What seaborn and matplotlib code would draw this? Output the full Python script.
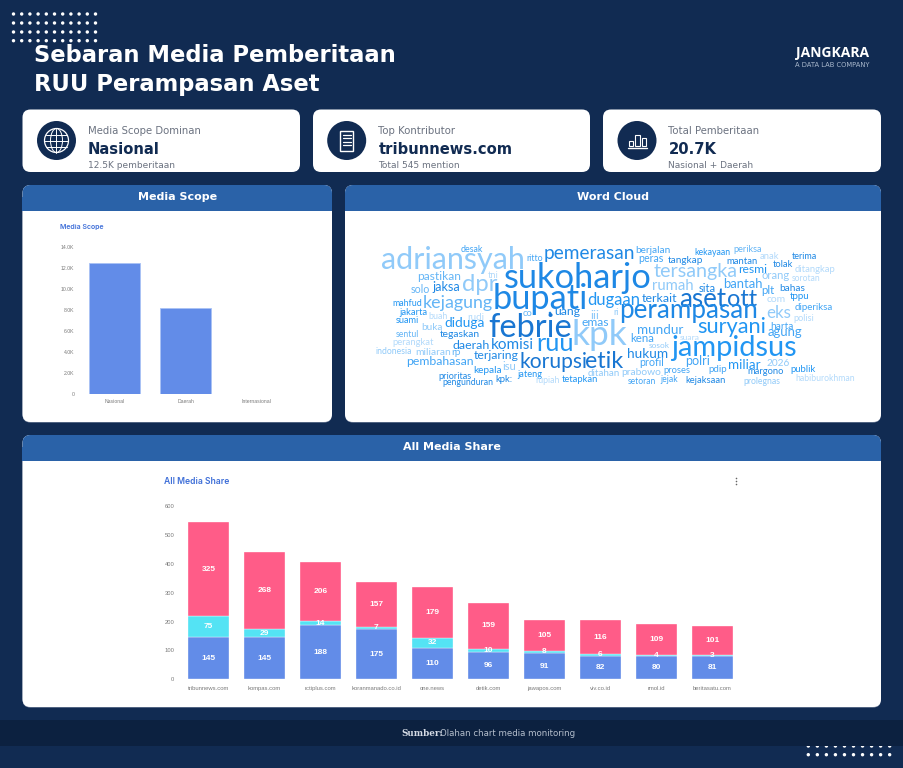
# plot.py
# Media monitoring dashboard: scope bars, word cloud and stacked media share

import matplotlib
matplotlib.use('Agg')
import matplotlib.pyplot as plt
import pandas as pd
import seaborn as sns
from matplotlib.font_manager import FontProperties
from matplotlib.patches import Circle, Ellipse, FancyBboxPatch, Rectangle
from matplotlib.textpath import TextPath

# data
SCOPE_LABELS = ['Nasional', 'Daerah', 'Internasional']
SCOPE_VALUES = [12500, 8200, 60]
SCOPE_TICKS = [0, 2000, 4000, 6000, 8000, 10000, 12000, 14000]
SCOPE_TICK_LABELS = ['0', '2.0K', '4.0K', '6.0K', '8.0K', '10.0K', '12.0K', '14.0K']

MEDIA_LABELS = ['tribunnews.com', 'kompas.com', 'rctiplus.com', 'koranmanado.co.id',
                'one.news', 'detik.com', 'jawapos.com', 'viv.co.id', 'rmol.id',
                'beritasatu.com']
MEDIA_BLUE = [145, 145, 188, 175, 110, 96, 91, 82, 80, 81]
MEDIA_CYAN = [75, 29, 14, 7, 32, 10, 8, 6, 4, 3]
MEDIA_PINK = [325, 268, 206, 157, 179, 159, 105, 116, 109, 101]
MEDIA_TICKS = [0, 100, 200, 300, 400, 500, 600]

KPI_TITLES = ['Media Scope Dominan', 'Top Kontributor', 'Total Pemberitaan']
KPI_VALUES = ['Nasional', 'tribunnews.com', '20.7K']
KPI_NOTES = ['12.5K pemberitaan', 'Total 545 mention', 'Nasional + Daerah']

WORDS = ['adriansyah', 'desak', 'ritto', 'pemerasan', 'sukoharjo', 'tni', 'pastikan',
         'dpr', 'solo', 'jaksa', 'bupati', 'kejagung', 'dugaan', 'mahfud', 'jakarta',
         'buah', 'rudi', 'co', 'uang', 'iii', 'febrie', 'suami', 'buka', 'diduga',
         'emas', 'kpk', 'sentul', 'tegaskan', 'perangkat', 'daerah', 'komisi', 'ruu',
         'indonesia', 'miliaran', 'rp', 'terjaring', 'korupsi', 'etik', 'pembahasan',
         'isu', 'kepala', 'ditahan', 'prioritas', 'jateng', 'pengunduran', 'kpk:',
         'rupiah', 'tetapkan', 'berjalan', 'kekayaan', 'periksa', 'peras', 'tangkap',
         'mantan', 'anak', 'terima', 'tersangka', 'resmi', 'tolak', 'ditangkap',
         'orang', 'sorotan', 'rumah', 'sita', 'bantah', 'plt', 'bahas', 'terkait',
         'aset', 'ott', 'com', 'tppu', 'eks', 'diperiksa', 'perampasan', 'ri',
         'polisi', 'mundur', 'suryani', 'harta', 'agung', 'kena', 'suara', 'sosok',
         'jampidsus', 'hukum', 'profil', 'polri', 'miliar', '2026', 'prabowo',
         'proses', 'pdip', 'margono', 'publik', 'setoran', 'jejak', 'kejaksaan',
         'prolegnas', 'habiburokhman']

# word cloud placement: left px, right px, centre y px, shade index
WORD_BOXES = {
    'adriansyah': (381.7, 523, 260, 1), 'desak': (460.7, 482.7, 249, 3),
    'ritto': (526.7, 542.3, 258, 3), 'pemerasan': (545, 634, 256, 5),
    'sukoharjo': (505, 650, 278, 5), 'tni': (488, 498, 275, 0),
    'pastikan': (418, 460, 277, 2), 'dpr': (462.7, 497, 284, 1),
    'solo': (410.7, 429, 289, 2), 'jaksa': (432.3, 459.3, 288, 5),
    'bupati': (495, 586, 299, 5), 'kejagung': (424, 492.7, 303, 2),
    'dugaan': (587.7, 639, 300, 4), 'mahfud': (393.3, 421.7, 303, 4),
    'jakarta': (399.3, 426.7, 312, 4), 'buah': (429, 447, 316, 0),
    'rudi': (468.3, 484, 316, 0), 'co': (523, 532, 314, 2),
    'uang': (555, 580, 313, 5), 'iii': (591, 598.5, 314, 1),
    'febrie': (489.3, 570.7, 325, 6), 'suami': (395.7, 418.3, 320, 4),
    'buka': (422.3, 442.3, 326, 1), 'diduga': (445, 484, 323, 4),
    'emas': (582.3, 608.7, 323, 3), 'kpk': (574, 627, 335, 1),
    'sentul': (395.7, 418.3, 334, 2), 'tegaskan': (440, 479.3, 334, 5),
    'perangkat': (393.3, 434, 342, 0), 'daerah': (453.3, 489.3, 344, 5),
    'komisi': (492.3, 533.3, 343, 5), 'ruu': (538.3, 572.3, 345, 4),
    'indonesia': (375.7, 411, 351, 1), 'miliaran': (416, 450, 351, 1),
    'rp': (451.7, 460, 353, 2), 'terjaring': (474, 518.3, 356, 5),
    'korupsi': (520.7, 586, 362, 6), 'etik': (586, 623, 360, 6),
    'pembahasan': (407.3, 473.3, 362, 3), 'isu': (502.7, 515, 366, 1),
    'kepala': (474, 501, 370, 4), 'ditahan': (587.7, 619, 372, 1),
    'prioritas': (439, 471, 376, 5), 'jateng': (516.7, 541.7, 374, 4),
    'pengunduran': (442.7, 492.7, 383, 5), 'kpk:': (495.7, 511.7, 379, 5),
    'rupiah': (536, 559.3, 381, 0), 'tetapkan': (561.7, 597.3, 379, 4),
    'berjalan': (636, 669.3, 250.7, 3), 'kekayaan': (695, 730, 253, 4),
    'periksa': (734.3, 761.7, 249, 2), 'peras': (639, 663.3, 260, 3),
    'tangkap': (668.3, 702.7, 260.7, 5), 'mantan': (726.7, 756.7, 261.3, 5),
    'anak': (760, 779, 256, 0), 'terima': (792.3, 816.7, 256, 5),
    'tersangka': (654, 736.7, 271.7, 1), 'resmi': (739.3, 766.7, 269, 4),
    'tolak': (773.3, 793.3, 264, 5), 'ditangkap': (795, 835, 269.7, 0),
    'orang': (761.7, 789.3, 277, 1), 'sorotan': (792.3, 820, 278, 0),
    'rumah': (652.7, 692.3, 285, 1), 'sita': (699, 715, 287.7, 5),
    'bantah': (724, 761.7, 283.7, 3), 'plt': (761.7, 774, 291, 3),
    'bahas': (780, 804.3, 287.7, 5), 'terkait': (641.7, 676.7, 297.7, 5),
    'aset': (680, 726, 298, 6), 'ott': (728.3, 757.3, 298, 6),
    'com': (766.7, 785, 299, 0), 'tppu': (790, 809, 297, 4),
    'eks': (767.3, 790.7, 312, 1), 'diperiksa': (795, 832.3, 307.3, 3),
    'perampasan': (621, 755.7, 314, 5), 'ri': (614, 618.3, 312, 1),
    'polisi': (794.3, 814, 318.3, 0), 'mundur': (637.7, 682.7, 329, 3),
    'suryani': (698.3, 765.3, 327.3, 4), 'harta': (770.7, 792.7, 325.7, 3),
    'agung': (768.3, 802.3, 334.3, 3), 'kena': (630.7, 653.3, 337.7, 3),
    'suara': (680, 699, 337.7, 0), 'sosok': (649, 669.3, 345.3, 1),
    'jampidsus': (670, 795.7, 348, 4), 'hukum': (627.7, 666.7, 352.7, 5),
    'profil': (640, 663.3, 362.7, 3), 'polri': (686, 709.3, 361, 3),
    'miliar': (729, 760, 364.3, 4), '2026': (766.7, 789.3, 362, 1),
    'prabowo': (621.7, 660.7, 371.7, 1), 'proses': (664, 690, 371.3, 3),
    'pdip': (709, 726.7, 369.3, 3), 'margono': (747.7, 783.3, 372.7, 5),
    'publik': (791, 815.7, 369, 4), 'setoran': (628.3, 655.7, 380.7, 3),
    'jejak': (660, 677.7, 380, 3), 'kejaksaan': (685.7, 724.3, 380.3, 5),
    'prolegnas': (744.3, 780, 381.7, 1), 'habiburokhman': (795.7, 854, 377.7, 0),
}

NAVY = '#112B52'
BAND = '#0C2140'
HEADER = '#2A62A8'
BLUE = '#628CE8'
CYAN = '#54E3F4'
PINK = '#FF5C88'
SHADES = ['#B3DAFB', '#90CAF9', '#64B5F6', '#42A5F5', '#2196F3', '#1E88E5', '#1976D2']
W, H = 904, 768
DPI = 100


def add_chart_axes(fig, left, top, right, bottom):
    """Axes placed by pixel edges of the figure."""
    ax = fig.add_axes([left / W, 1 - bottom / H, (right - left) / W, (bottom - top) / H])
    ax.set_facecolor('none')
    sns.despine(ax=ax, left=True, bottom=True)
    return ax


def style_ticks(ax, size, pad):
    ax.set_xlabel('')
    ax.set_ylabel('')
    ax.tick_params(length=0, labelsize=size, labelcolor='#7A7A7A', pad=pad)
    for label in ax.get_xticklabels() + ax.get_yticklabels():
        label.set_family('Liberation Sans')


def draw_card(bg, left, top, right, bottom, radius=8, color='white'):
    bg.add_patch(FancyBboxPatch((left + radius, top + radius),
                                right - left - 2 * radius, bottom - top - 2 * radius,
                                boxstyle=f'round,pad={radius},rounding_size={radius}',
                                fc=color, ec='none'))


def draw_panel(bg, left, top, right, bottom, title):
    """White card with a soft bottom edge and a blue rounded header strip."""
    draw_card(bg, left, top + 1, right, bottom + 0.6, color='#7C8AA3')
    draw_card(bg, left, top, right, bottom)
    bg.add_patch(FancyBboxPatch((left + 8, top + 8), right - left - 16, 4,
                                boxstyle='round,pad=8,rounding_size=8',
                                fc=HEADER, ec='none'))
    bg.add_patch(Rectangle((left, top + 12), right - left, 13.5, fc=HEADER, ec='none'))
    bg.text((left + right) / 2, top + 12.5, title, color='white', fontsize=8,
            fontweight='bold', ha='center', va='center')


def draw_icons(bg):
    for cx in [56.5, 346.7, 637]:
        bg.add_patch(Circle((cx, 140.5), 19.5, fc=NAVY, ec='none'))
    # globe
    bg.add_patch(Circle((56.5, 140.5), 12, fc='none', ec='white', lw=0.9))
    bg.add_patch(Ellipse((56.5, 140.5), 12, 24, fc='none', ec='white', lw=0.7))
    bg.plot([56.5, 56.5], [128.5, 152.5], color='white', lw=0.7)
    for y, half in [(134.5, 10.3), (140.5, 12), (146.5, 10.3)]:
        bg.plot([56.5 - half, 56.5 + half], [y, y], color='white', lw=0.7)
    # document
    bg.add_patch(Rectangle((340.5, 131), 13, 19.5, fc='none', ec='white', lw=1))
    for y in [134.5, 138, 141.5, 145]:
        bg.plot([343, 351.5], [y, y], color='white', lw=0.9)
    # bars
    for x, w, y in [(629.5, 4, 141), (635.5, 5, 134.5), (642, 4, 138)]:
        bg.add_patch(Rectangle((x, y), w, 146 - y, fc='none', ec='white', lw=0.8))
    bg.plot([628, 647], [147.5, 147.5], color='white', lw=1)


def draw_dots(bg, xs, ys):
    for x in xs:
        for y in ys:
            bg.add_patch(Circle((x, y), 1.7, fc='white', ec='none'))


def draw_wordcloud(bg):
    """Fit every word to its box so the cloud keeps the reference packing."""
    fp = FontProperties(family='Lato')
    for word in WORDS:
        left, right, cy, shade = WORD_BOXES[word]
        ext = TextPath((0, 0), word, size=10, prop=fp).get_extents()
        size = 10 * (right - left) / (ext.width * DPI / 72)
        scale = size / 10 * DPI / 72
        bg.text(left - ext.x0 * scale, cy + (ext.y0 + ext.y1) / 2 * scale, word,
                fontproperties=fp, fontsize=size, color=SHADES[shade],
                ha='left', va='baseline')
    for x, y, r, shade in [(550, 313, 1.3, 5), (675, 337, 0.9, 3)]:
        bg.add_patch(Circle((x, y), r, fc=SHADES[shade], ec='none'))


def plot_scope(fig):
    ax = add_chart_axes(fig, 79.2, 247.3, 292, 394.3)
    df = pd.DataFrame({'scope': SCOPE_LABELS, 'value': SCOPE_VALUES})
    sns.barplot(data=df, x='scope', y='value', color=BLUE, saturation=1, width=0.72,
                errorbar=None, ax=ax, edgecolor='#A9C2F5', linewidth=0.6)
    ax.set_xlim(-0.5, 2.5)
    ax.set_ylim(0, 14000)
    ax.set_yticks(SCOPE_TICKS, SCOPE_TICK_LABELS)
    style_ticks(ax, 3.7, 3.5)


def plot_media_share(fig):
    ax = add_chart_axes(fig, 180.4, 506.3, 740.4, 679.3)
    df = pd.DataFrame({'media': MEDIA_LABELS, 'blue': MEDIA_BLUE,
                       'cyan': MEDIA_CYAN, 'pink': MEDIA_PINK})
    df['cyan_base'] = df['blue']
    df['pink_base'] = df['blue'] + df['cyan']
    kw = dict(data=df, x='media', saturation=1, width=0.72, errorbar=None, ax=ax,
              edgecolor='white', linewidth=0.25)
    sns.barplot(y='blue', color=BLUE, **kw)
    sns.barplot(y='cyan', color=CYAN, bottom=df['cyan_base'].values, **kw)
    sns.barplot(y='pink', color=PINK, bottom=df['pink_base'].values, **kw)
    for container in ax.containers:
        ax.bar_label(container, label_type='center', color='white', fontsize=6,
                     fontweight='bold', family='Liberation Sans')
    ax.set_xlim(-0.5, 9.5)
    ax.set_ylim(0, 600)
    ax.set_yticks(MEDIA_TICKS)
    style_ticks(ax, 4.2, 4.5)


def main():
    sns.set_theme(style='white')
    plt.rcParams['font.family'] = ['DejaVu Sans']
    fig = plt.figure(figsize=(W / DPI, H / DPI), dpi=DPI, facecolor=NAVY)
    bg = fig.add_axes([0, 0, 1, 1])
    bg.set_xlim(0, W)
    bg.set_ylim(H, 0)
    bg.axis('off')

    # header
    draw_dots(bg, [13.5 + 8.2 * i for i in range(11)], [14, 23, 32, 40.7])
    bg.text(34, 55.5, 'Sebaran Media Pemberitaan', color='white', fontsize=16.3,
            fontweight='bold', va='center')
    bg.text(34, 84, 'RUU Perampasan Aset', color='white', fontsize=16.3,
            fontweight='bold', va='center')
    bg.text(869.5, 52.5, 'JANGKARA', color='white', fontsize=10, fontweight='bold',
            family='Open Sans', ha='right', va='center')
    bg.text(869.5, 65, 'A DATA LAB COMPANY', color='#A9B8CC', fontsize=4.9,
            ha='right', va='center')

    # KPI cards
    for left, right, title, value, note in zip([22.5, 313, 603], [300, 590, 881],
                                               KPI_TITLES, KPI_VALUES, KPI_NOTES):
        draw_card(bg, left, 109.5, right, 172)
        bg.text(left + 65.5, 131, title, color='#6B7280', fontsize=7.3, va='center')
        bg.text(left + 65.5, 149, value, color=NAVY, fontsize=10.6, fontweight='bold',
                va='center')
        bg.text(left + 65.5, 165.5, note, color='#6B7280', fontsize=6.5, va='center')
    draw_icons(bg)

    # panels
    draw_panel(bg, 22.5, 185, 332, 422, 'Media Scope')
    draw_panel(bg, 345, 185, 881, 422, 'Word Cloud')
    draw_panel(bg, 22.5, 435, 881, 707, 'All Media Share')
    bg.text(60, 227.5, 'Media Scope', color='#3F6FD8', fontsize=5, family='Inter',
            fontweight='semibold', va='center')
    bg.text(164, 482, 'All Media Share', color='#3F6FD8', fontsize=6.2, family='Inter',
            fontweight='semibold', va='center')
    for y in [478.5, 481.5, 484.5]:
        bg.add_patch(Circle((736.5, y), 0.8, fc='#666666', ec='none'))
    draw_wordcloud(bg)

    # footer
    draw_dots(bg, [808.3 + 9.04 * i for i in range(10)], [746, 754.7])
    bg.add_patch(Rectangle((0, 719.5), W, 26.2, fc=BAND, ec='none'))
    bg.text(401, 733, 'Sumber:', color='#D5DBE5', fontsize=6.3, fontweight='bold',
            family='DejaVu Serif', va='center')
    bg.text(440, 733, 'Olahan chart media monitoring', color='#B4BECC', fontsize=6.2,
            va='center')

    plot_scope(fig)
    plot_media_share(fig)

    fig.savefig('out.png', dpi=DPI, facecolor=NAVY)
    plt.close(fig)


main()
